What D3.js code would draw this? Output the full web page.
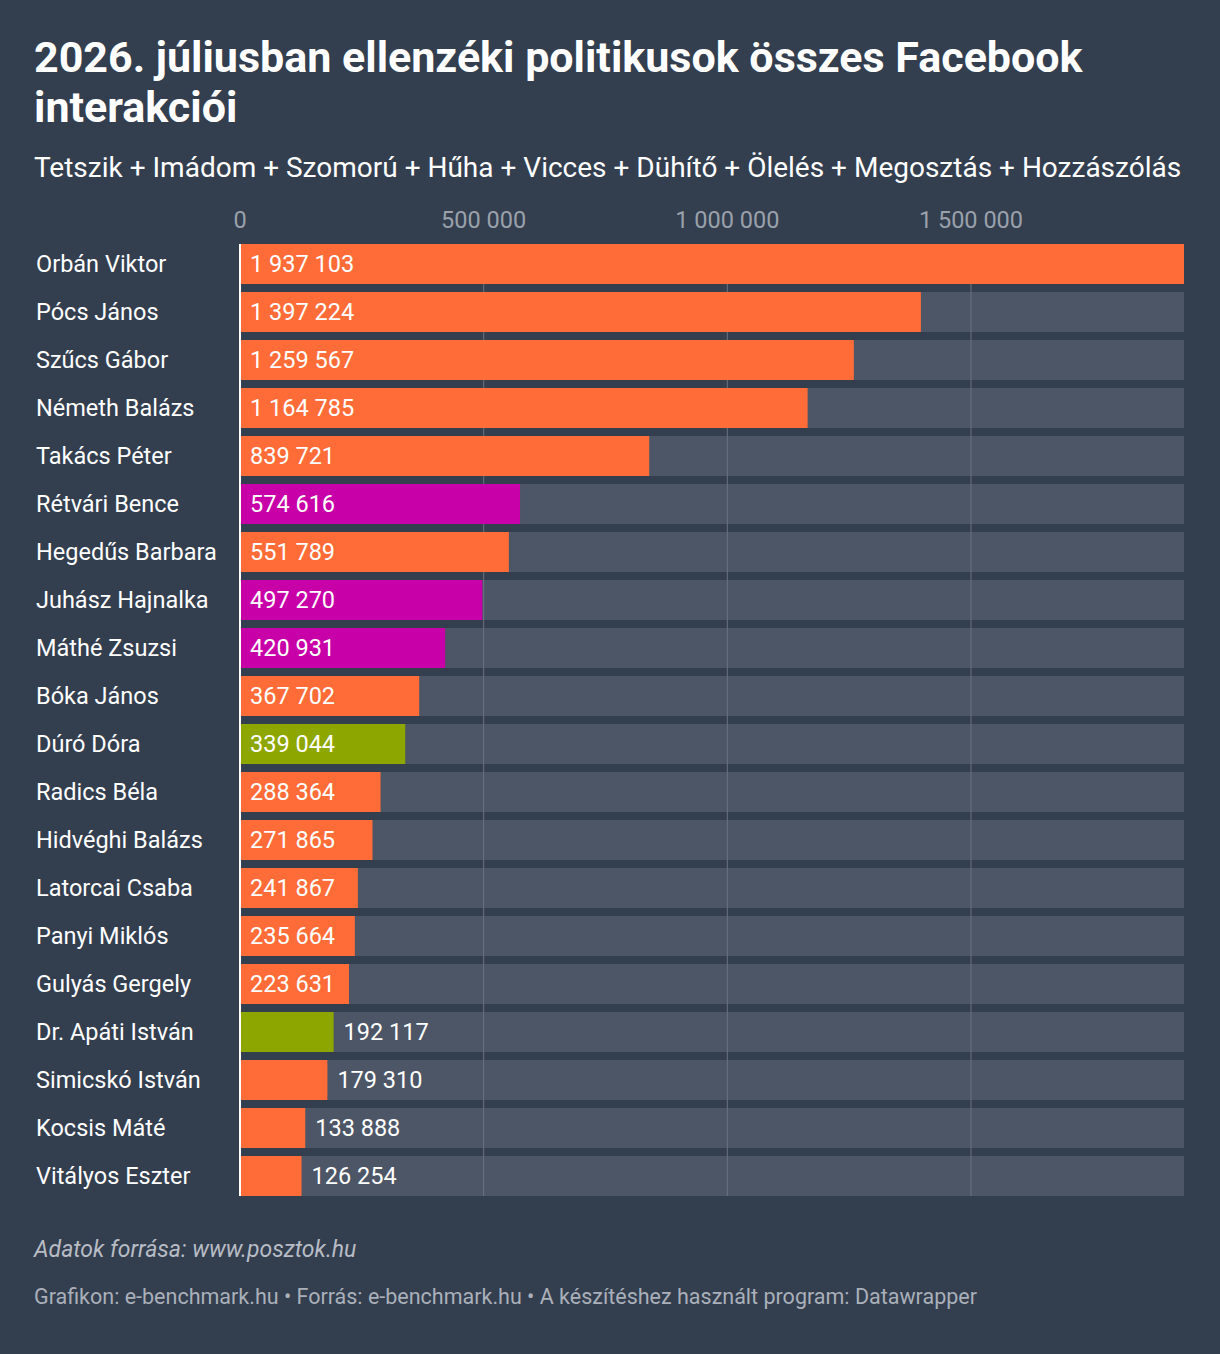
<!DOCTYPE html>
<html><head><meta charset="utf-8">
<script src="https://cdn.jsdelivr.net/npm/d3@7"></script>
<style>body{margin:0;background:#333e4f;font-family:Roboto,sans-serif}</style>
</head><body>
<svg id="c" width="1220" height="1354"></svg>
<script>
const names=["Orbán Viktor","Pócs János","Szűcs Gábor","Németh Balázs","Takács Péter","Rétvári Bence","Hegedűs Barbara","Juhász Hajnalka","Máthé Zsuzsi","Bóka János","Dúró Dóra","Radics Béla","Hidvéghi Balázs","Latorcai Csaba","Panyi Miklós","Gulyás Gergely","Dr. Apáti István","Simicskó István","Kocsis Máté","Vitályos Eszter"];
const values=[1937103,1397224,1259567,1164785,839721,574616,551789,497270,420931,367702,339044,288364,271865,241867,235664,223631,192117,179310,133888,126254];
const groups=["o","o","o","o","o","m","o","m","m","o","g","o","o","o","o","o","g","o","o","o"];
const ticks=[0,500000,1000000,1500000];
const colors={o:"#ff6c37",m:"#c800a8",g:"#8ea600"};
const svg=d3.select("#c");
svg.append("rect").attr("width",1220).attr("height",1354).attr("fill","#333e4f");
const x=d3.scaleLinear().domain([0,1937103]).range([240,1184]);
const y=d3.scaleBand().domain(names).range([240,1200]).paddingInner(8/48).paddingOuter(4/48);
const fmt=v=>d3.format(",")(v).replace(/,/g," ");
svg.append("text").attr("x",34).attr("y",72).attr("fill","#fff").attr("font-size",43).attr("font-weight",700).text("2026. júliusban ellenzéki politikusok összes Facebook");
svg.append("text").attr("x",34).attr("y",122).attr("fill","#fff").attr("font-size",43).attr("font-weight",700).text("interakciói");
svg.append("text").attr("x",34).attr("y",177).attr("fill","#fff").attr("font-size",28).text("Tetszik + Imádom + Szomorú + Hűha + Vicces + Dühítő + Ölelés + Megosztás + Hozzászólás");
svg.selectAll(".tk").data(ticks).join("text").attr("x",d=>x(d)).attr("y",228).attr("text-anchor","middle").attr("fill","#9aa1ab").attr("font-size",23.5).text(d=>fmt(d));
const g=svg.selectAll(".row").data(names).join("g");
g.append("rect").attr("x",x(0)).attr("y",d=>y(d)).attr("width",x(1937103)-x(0)).attr("height",y.bandwidth()).attr("fill","#4d5666");
svg.selectAll(".grid").data(ticks.slice(1)).join("line").attr("x1",d=>x(d)).attr("x2",d=>x(d)).attr("y1",244).attr("y2",1196).attr("stroke","#6b7380").attr("stroke-width",1);
const g2=svg.selectAll(".row2").data(names).join("g");
g2.append("rect").attr("x",x(0)).attr("y",d=>y(d)).attr("width",(d,i)=>x(values[i])-x(0)).attr("height",y.bandwidth()).attr("fill",(d,i)=>colors[groups[i]]);
g2.append("text").attr("x",36).attr("y",d=>y(d)+y.bandwidth()/2+8).attr("fill","#fff").attr("font-size",23.5).text(d=>d);
g2.append("text").attr("x",(d,i)=>values[i]>200000?250:x(values[i])+10).attr("y",d=>y(d)+y.bandwidth()/2+8).attr("fill","#fff").attr("font-size",23.5).text((d,i)=>fmt(values[i]));
svg.append("line").attr("x1",x(0)).attr("x2",x(0)).attr("y1",244).attr("y2",1196).attr("stroke","#fff").attr("stroke-width",2);
svg.append("text").attr("x",34).attr("y",1257).attr("fill","#b8bcc4").attr("font-size",23).attr("font-style","italic").text("Adatok forrása: www.posztok.hu");
svg.append("text").attr("x",34).attr("y",1304).attr("fill","#aab0b9").attr("font-size",21.5).text("Grafikon: e-benchmark.hu • Forrás: e-benchmark.hu • A készítéshez használt program: Datawrapper");
</script></body></html>
